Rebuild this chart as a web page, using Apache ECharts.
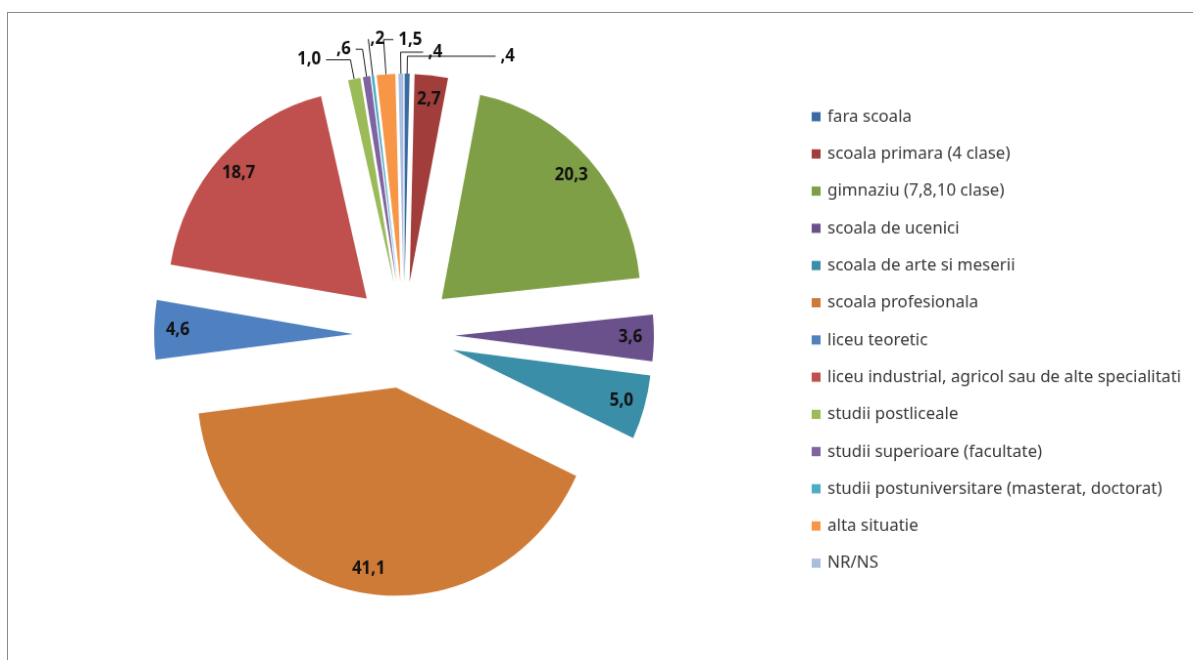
<!DOCTYPE html>
<html>
<head>
<meta charset="utf-8">
<script src="https://cdn.jsdelivr.net/npm/echarts@6/dist/echarts.min.js"></script>
<style>
html,body{margin:0;padding:0;background:#fff;overflow:hidden;width:1193px;height:660px;position:relative;}
#frame{position:absolute;left:7px;top:12px;width:1300px;height:800px;border-top:1px solid #8a8a8a;border-left:1px solid #8a8a8a;}
#chart{position:absolute;left:0;top:0;width:1300px;height:660px;transform-origin:404px 335px;transform:scale(0.98,1.025);}
</style>
</head>
<body>
<div id="frame"></div>
<div id="chart"></div>
<script>
// Data
const categories = [
  "fara scoala",
  "scoala primara (4 clase)",
  "gimnaziu (7,8,10 clase)",
  "scoala de ucenici",
  "scoala de arte si meserii",
  "scoala profesionala",
  "liceu teoretic",
  "liceu industrial, agricol sau de alte specialitati",
  "studii postliceale",
  "studii superioare (facultate)",
  "studii postuniversitare (masterat, doctorat)",
  "alta situatie",
  "NR/NS"
];
const values = [0.4, 2.7, 20.3, 3.6, 5.0, 41.1, 4.6, 18.7, 1.0, 0.6, 0.2, 1.5, 0.4];
const colors = ["#3c6aa3", "#a13d3a", "#7f9f46", "#6a518c", "#3a8ea7", "#cf7b38",
                "#4f80bf", "#c0504d", "#9bbb59", "#8064a2", "#4bacc6", "#f79646", "#a9bde0"];

function fmt(v) {
  const s = v.toFixed(1).replace('.', ',');
  return v < 1 ? s.slice(1) : s;
}

// style / layout settings
const OUTSIDE_LIMIT = 2; // small slices get outside labels
const center = [404, 335];
const R = 203;
const OFFSET = 52;
const LABEL_FONT_SIZE = 17;
const LABEL_FONT_FAMILY = 'Open Sans';
// leader line settings for outside labels (flip: label drawn to the right of the leader)
const leaderSpec = {
  0:  { len: 17, len2: 90 },
  8:  { len: 19, len2: 25 },
  9:  { len: 27, len2: 7 },
  10: { len: 36, len2: 0, flip: true, gap: 2 },
  11: { len: 34, len2: 10, flip: true, gap: 5 },
  12: { len: 21, len2: 23, flip: true, gap: 5 }
};

const measureCtx = document.createElement('canvas').getContext('2d');
measureCtx.font = 'bold ' + LABEL_FONT_SIZE + 'px "' + LABEL_FONT_FAMILY + '"';
function textWidth(s) { return measureCtx.measureText(s).width; }

const mainData = categories.map((c, i) => {
  const small = values[i] < OUTSIDE_LIMIT;
  const spec = leaderSpec[i] || { len: 15, len2: 10 };
  const dist = spec.flip ? -(textWidth(fmt(values[i])) + spec.gap) : 5;
  return {
    name: c,
    value: values[i],
    selected: true,
    itemStyle: { color: colors[i] },
    label: { show: small, distanceToLabelLine: dist },
    labelLine: { show: small, length: spec.len, length2: spec.flip ? -spec.len2 : spec.len2 }
  };
});
const labelData = categories.map((c, i) => ({
  name: c,
  value: values[i],
  selected: true,
  label: { show: values[i] >= OUTSIDE_LIMIT }
}));

const labelFont = {
  fontFamily: LABEL_FONT_FAMILY,
  fontWeight: 'bold',
  fontSize: LABEL_FONT_SIZE,
  color: '#111'
};

const chart = echarts.init(document.getElementById('chart'), null, { renderer: 'canvas' });
chart.setOption({
  animation: false,
  backgroundColor: 'transparent',
  color: colors,
  legend: {
    orient: 'vertical',
    left: 820,
    top: 112,
    padding: 0,
    itemWidth: 9,
    itemHeight: 9,
    itemGap: 16.3,
    selectedMode: false,
    icon: 'rect',
    data: categories,
    textStyle: {
      fontFamily: 'Noto Sans',
      fontSize: 17,
      color: '#383838',
      lineHeight: 20,
      padding: [0, 0, 0, 2]
    }
  },
  series: [
    {
      type: 'pie',
      name: 'main',
      center: center,
      radius: [0, R],
      startAngle: 90,
      clockwise: true,
      selectedMode: 'multiple',
      selectedOffset: OFFSET,
      avoidLabelOverlap: false,
      emphasis: { disabled: true },
      label: Object.assign({
        position: 'outside',
        formatter: p => fmt(p.value)
      }, labelFont),
      labelLine: {
        smooth: false,
        minTurnAngle: 0,
        maxSurfaceAngle: 180,
        lineStyle: { color: '#1a1a1a', width: 1 }
      },
      data: mainData
    },
    {
      type: 'pie',
      name: 'labels',
      center: center,
      radius: [R - 54, R],
      startAngle: 90,
      clockwise: true,
      silent: true,
      selectedMode: 'multiple',
      selectedOffset: OFFSET,
      emphasis: { disabled: true },
      itemStyle: { color: 'rgba(0,0,0,0)' },
      label: Object.assign({
        position: 'inside',
        formatter: p => fmt(p.value)
      }, labelFont),
      labelLine: { show: false },
      data: labelData
    }
  ]
});
</script>
</body>
</html>
